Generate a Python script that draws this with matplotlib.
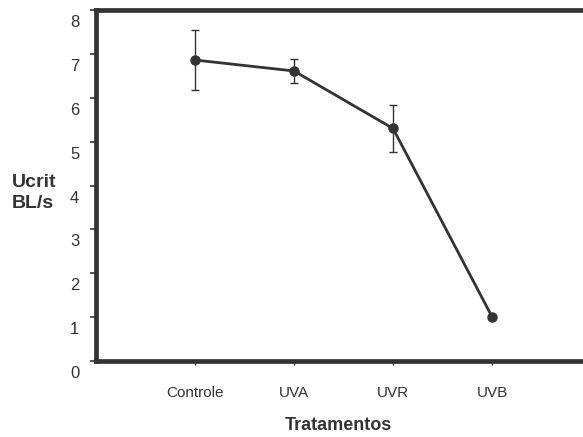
import matplotlib
matplotlib.use("Agg")
import matplotlib.pyplot as plt
import matplotlib.transforms as mtransforms

# dados
tratamentos = ["Controle", "UVA", "UVR", "UVB"]
ucrit = [6.86, 6.61, 5.30, 1.01]
erro = [0.68, 0.28, 0.54, 0.0]

plt.rcParams['font.family'] = ['Liberation Sans', 'DejaVu Sans']
cor = '#333333'

fig = plt.figure(figsize=(5.83, 4.37), dpi=100)
W, H = 583, 437
# eixo passa da borda direita, como no original
ax = fig.add_axes([96 / W, 76 / H, 495 / W, 351 / H])

x = list(range(1, len(tratamentos) + 1))
ax.errorbar(x, ucrit, yerr=erro, fmt='o-', color=cor, ecolor=cor,
            elinewidth=1.0, capsize=2.8, capthick=1.0,
            linewidth=2.0, markersize=6.5, clip_on=False, zorder=3)

ax.set_xlim(0, 5)
ax.set_ylim(0, 8)
ax.set_xticks(x)
ax.set_xticklabels(tratamentos, fontsize=11)
ax.set_yticks(range(0, 9))
ax.tick_params(axis='y', direction='out', length=4, width=1.2, pad=8,
               labelsize=12, color=cor, labelcolor=cor)
ax.tick_params(axis='x', direction='out', length=3, width=1.0, pad=15,
               color=cor, labelcolor=cor)

# rotulos do eixo y ficam um pouco abaixo das marcas no original
desloc = mtransforms.ScaledTranslation(0, -8 / 72, fig.dpi_scale_trans)
for lab in ax.get_yticklabels():
    lab.set_transform(lab.get_transform() + desloc)

for lado in ['left', 'bottom', 'top', 'right']:
    ax.spines[lado].set_linewidth(3.4)
    ax.spines[lado].set_color(cor)

fig.text(12 / W, 1 - 193 / H, "Ucrit\nBL/s", fontsize=14, fontweight='bold',
         ha='left', va='center', color=cor, linespacing=1.3)
fig.text(338 / W, 1 - 426 / H, "Tratamentos", fontsize=13, fontweight='bold',
         ha='center', va='center', color=cor)

fig.savefig("out.png", dpi=100)
